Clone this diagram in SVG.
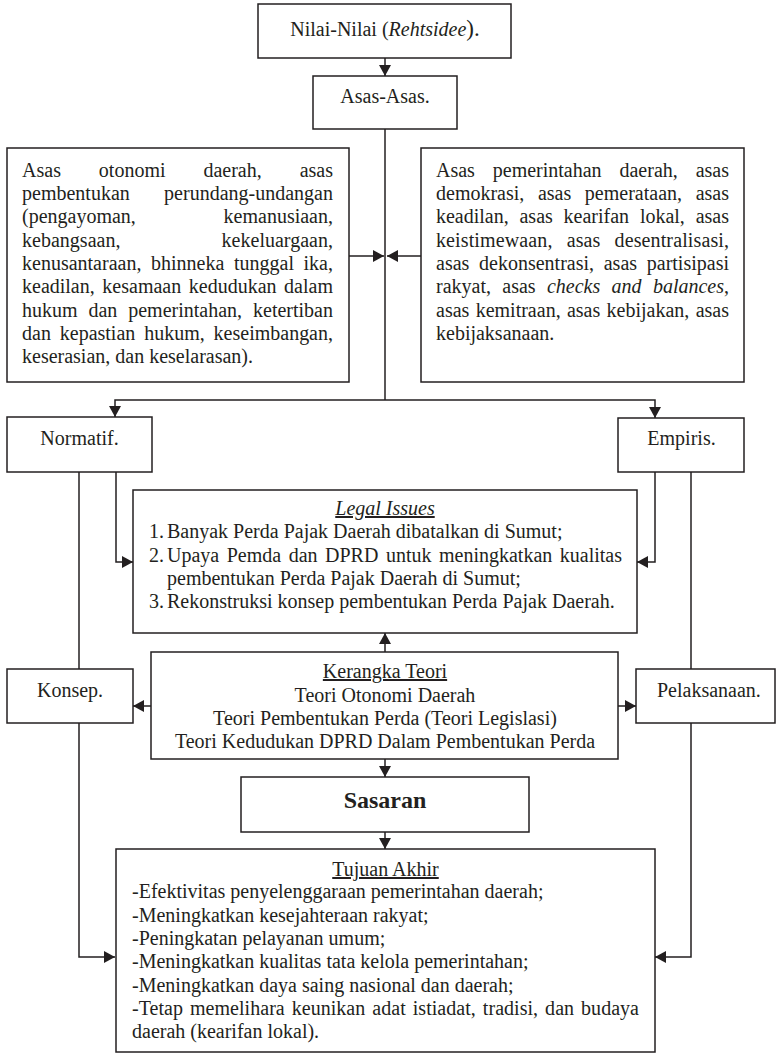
<svg xmlns="http://www.w3.org/2000/svg" width="776" height="1055" viewBox="0 0 776 1055">
<style>
.box{fill:#fff;stroke:#231f20;stroke-width:1.5}
.t{font-family:"Liberation Serif","Times New Roman",serif;font-size:20px;fill:#231f20}
.c{text-anchor:middle}
.e{text-anchor:end}
.u{text-decoration:underline}
.i{font-style:italic}
.b{font-weight:bold;font-size:24px}
.ln{fill:none;stroke:#231f20;stroke-width:1.5}
.ar{fill:none;stroke:#231f20;stroke-width:1.5;marker-end:url(#ah)}
</style>
<defs>
<marker id="ah" markerUnits="userSpaceOnUse" markerWidth="12" markerHeight="12" refX="11" refY="6" orient="auto">
<path d="M0,0 L11,6 L0,12 z" fill="#231f20"/>
</marker>
</defs>
<rect width="776" height="1055" fill="#fff"/>

<g id="connectors">
<path class="ar" d="M385,58 V76"/>
<path class="ln" d="M385,129 V400"/>
<path class="ar" d="M385,400 H115 V417"/>
<path class="ar" d="M385,400 H655 V418"/>
<path class="ar" d="M349,256 H384"/>
<path class="ar" d="M421,256 H387"/>
<path class="ln" d="M79,472 V669"/>
<path class="ar" d="M116,472 V562 H133"/>
<path class="ar" d="M655,472 V562 H637"/>
<path class="ln" d="M691,472 V669"/>
<path class="ar" d="M385,652 V633"/>
<path class="ar" d="M151,706 H133"/>
<path class="ar" d="M618,706 H636"/>
<path class="ar" d="M385,759 V777"/>
<path class="ar" d="M385,832 V849"/>
<path class="ar" d="M79,723 V957 H115"/>
<path class="ar" d="M691,723 V957 H655"/>
</g>

<g id="nilai">
<rect class="box" x="258" y="4" width="253" height="54"/>
<text class="t c" x="385" y="36">Nilai-Nilai (<tspan class="i">Rehtsidee</tspan><tspan font-size="23">).</tspan></text>
</g>

<g id="asas">
<rect class="box" x="313" y="76" width="144" height="53"/>
<text class="t c" x="385" y="103">Asas-Asas.</text>
</g>

<g id="asas-kiri">
<rect class="box" x="7" y="148" width="342" height="234"/>
<text class="t" x="22" y="177" word-spacing="32.9" textLength="311" lengthAdjust="spacing">Asas otonomi daerah, asas</text>
<text class="t" x="22" y="200" word-spacing="29.3" textLength="311" lengthAdjust="spacing">pembentukan perundang-undangan</text>
<text class="t" x="22" y="223.3" word-spacing="82.7" textLength="311" lengthAdjust="spacing">(pengayoman, kemanusiaan,</text>
<text class="t" x="22" y="246.7" word-spacing="96.1" textLength="311" lengthAdjust="spacing">kebangsaan, kekeluargaan,</text>
<text class="t" x="22" y="270" word-spacing="4.6" textLength="311" lengthAdjust="spacing">kenusantaraan, bhinneka tunggal ika,</text>
<text class="t" x="22" y="293.3" word-spacing="2.6" textLength="311" lengthAdjust="spacing">keadilan, kesamaan kedudukan dalam</text>
<text class="t" x="22" y="316.7" word-spacing="5.9" textLength="311" lengthAdjust="spacing">hukum dan pemerintahan, ketertiban</text>
<text class="t" x="22" y="340" word-spacing="3.9" textLength="311" lengthAdjust="spacing">dan kepastian hukum, keseimbangan,</text>
<text class="t" x="22" y="363.3">keserasian, dan keselarasan).</text>
</g>

<g id="asas-kanan">
<rect class="box" x="421" y="148" width="323" height="234"/>
<text class="t" x="436" y="177" word-spacing="12.9" textLength="293" lengthAdjust="spacing">Asas pemerintahan daerah, asas</text>
<text class="t" x="436" y="200" word-spacing="8.6" textLength="293" lengthAdjust="spacing">demokrasi, asas pemerataan, asas</text>
<text class="t" x="436" y="223.3" word-spacing="5.8" textLength="293" lengthAdjust="spacing">keadilan, asas kearifan lokal, asas</text>
<text class="t" x="436" y="246.7" word-spacing="9" textLength="293" lengthAdjust="spacing">keistimewaan, asas desentralisasi,</text>
<text class="t" x="436" y="270" word-spacing="4.7" textLength="293" lengthAdjust="spacing">asas dekonsentrasi, asas partisipasi</text>
<text class="t" x="436" y="293.3" word-spacing="6.3" textLength="293" lengthAdjust="spacing">rakyat, asas <tspan class="i">checks and balances</tspan>,</text>
<text class="t" x="436" y="316.7" word-spacing="1.3" textLength="293" lengthAdjust="spacing">asas kemitraan, asas kebijakan, asas</text>
<text class="t" x="436" y="340">kebijaksanaan.</text>
</g>

<g id="normatif">
<rect class="box" x="7" y="417" width="145" height="55"/>
<text class="t c" x="79.5" y="445">Normatif.</text>
</g>

<g id="empiris">
<rect class="box" x="618" y="418" width="126" height="54"/>
<text class="t c" x="681.5" y="445">Empiris.</text>
</g>

<g id="legal-issues">
<rect class="box" x="133" y="490" width="504" height="143"/>
<text class="t c i u" x="385" y="515">Legal Issues</text>
<text class="t" x="149" y="538.3">1.</text>
<text class="t" x="167" y="538.3">Banyak Perda Pajak Daerah dibatalkan di Sumut;</text>
<text class="t" x="149" y="561.7">2.</text>
<text class="t" x="167" y="561.7" word-spacing="2.5" textLength="455" lengthAdjust="spacing">Upaya Pemda dan DPRD untuk meningkatkan kualitas</text>
<text class="t" x="167" y="585">pembentukan Perda Pajak Daerah di Sumut;</text>
<text class="t" x="149" y="608.3">3.</text>
<text class="t" x="167" y="608.3">Rekonstruksi konsep pembentukan Perda Pajak Daerah.</text>
</g>

<g id="kerangka-teori">
<rect class="box" x="151" y="652" width="467" height="107"/>
<text class="t c u" x="385" y="678">Kerangka Teori</text>
<text class="t c" x="385" y="701.5">Teori Otonomi Daerah</text>
<text class="t c" x="385" y="724.8">Teori Pembentukan Perda (Teori Legislasi)</text>
<text class="t c" x="385" y="748">Teori Kedudukan DPRD Dalam Pembentukan Perda</text>
</g>

<g id="konsep">
<rect class="box" x="7" y="669" width="126" height="54"/>
<text class="t c" x="70" y="697">Konsep.</text>
</g>

<g id="pelaksanaan">
<rect class="box" x="636" y="669" width="139" height="54"/>
<text class="t" x="657" y="697">Pelaksanaan.</text>
</g>

<g id="sasaran">
<rect class="box" x="241" y="777" width="288" height="55"/>
<text class="t c b" x="385" y="808">Sasaran</text>
</g>

<g id="tujuan-akhir">
<rect class="box" x="116" y="849" width="539" height="203"/>
<text class="t c u" x="385.5" y="876">Tujuan Akhir</text>
<text class="t" x="132" y="898.3">-Efektivitas penyelenggaraan pemerintahan daerah;</text>
<text class="t" x="132" y="921.6">-Meningkatkan kesejahteraan rakyat;</text>
<text class="t" x="132" y="945">-Peningkatan pelayanan umum;</text>
<text class="t" x="132" y="968.3">-Meningkatkan kualitas tata kelola pemerintahan;</text>
<text class="t" x="132" y="991.6">-Meningkatkan daya saing nasional dan daerah;</text>
<text class="t" x="132" y="1015" word-spacing="2" textLength="507" lengthAdjust="spacing">-Tetap memelihara keunikan adat istiadat, tradisi, dan budaya</text>
<text class="t" x="132" y="1038.3">daerah (kearifan lokal).</text>
</g>
</svg>
